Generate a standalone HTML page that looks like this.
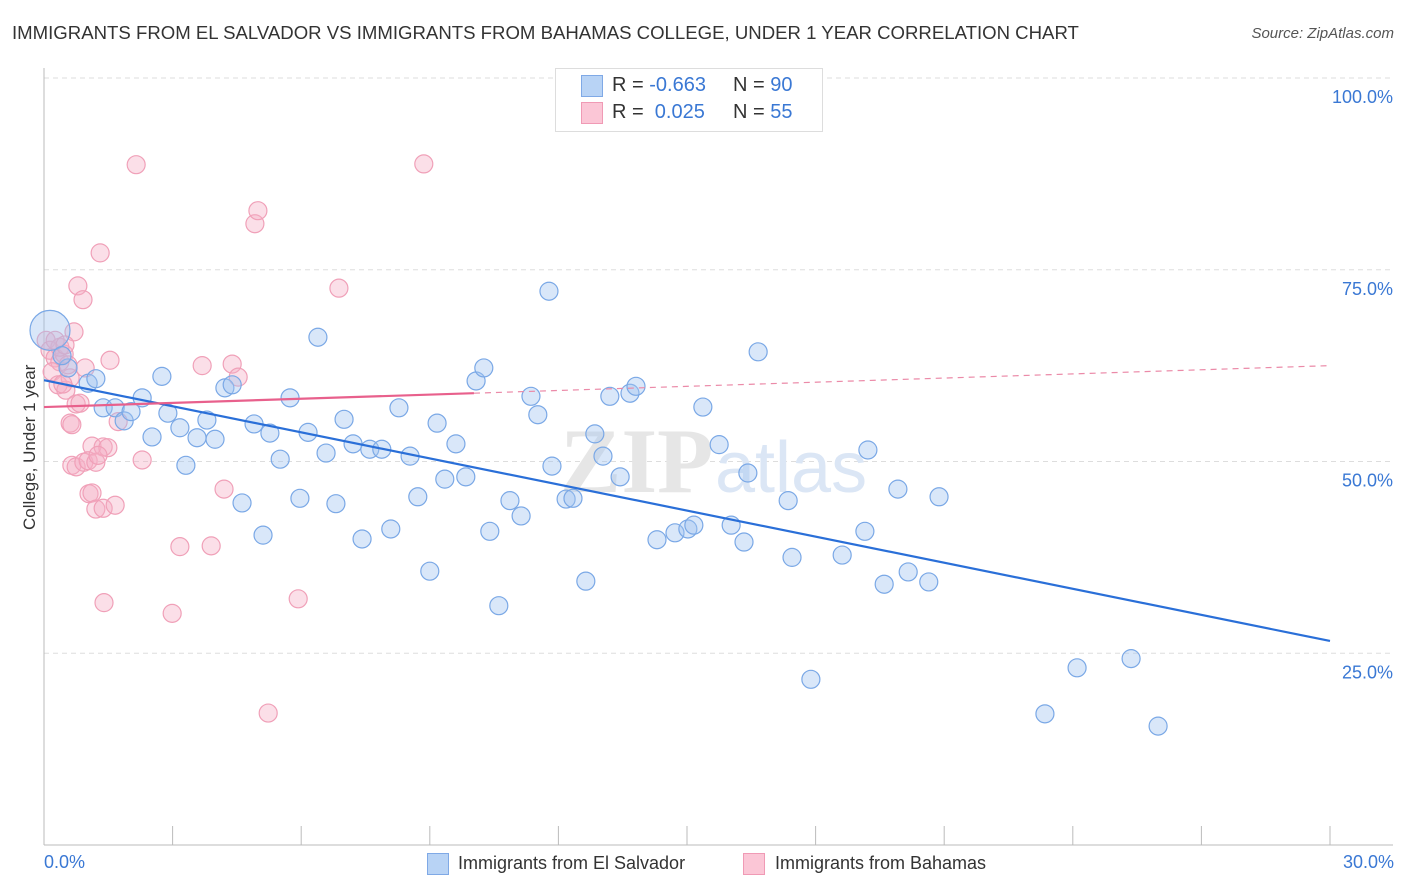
<!DOCTYPE html>
<html><head><meta charset="utf-8"><style>
body{margin:0;background:#fff;font-family:"Liberation Sans",sans-serif;}
#wrap{position:relative;width:1406px;height:892px;overflow:hidden;}
.t{position:absolute;white-space:nowrap;}
</style></head><body>
<div id="wrap">
<div class="t" style="left:12px;top:22px;font-size:18.6px;color:#333;">IMMIGRANTS FROM EL SALVADOR VS IMMIGRANTS FROM BAHAMAS COLLEGE, UNDER 1 YEAR CORRELATION CHART</div>
<div class="t" style="right:12px;top:25px;font-size:15px;color:#555;font-style:italic;">Source: ZipAtlas.com</div>
<div class="t" style="left:-45px;top:445px;font-size:17px;color:#333;transform:rotate(-90deg);transform-origin:center;width:150px;text-align:center;">College, Under 1 year</div>
<svg id="svg" width="1406" height="892" style="position:absolute;left:0;top:0"></svg>
<div class="t" style="left:555px;top:68px;width:266px;height:62px;border:1px solid #ddd;background:#fff;"></div>
<div class="t" style="left:581px;top:75px;width:20px;height:20px;background:#b8d3f5;border:1px solid #7fa9e6;"></div>
<div class="t" style="left:581px;top:102px;width:20px;height:20px;background:#fbc6d6;border:1px solid #f09ab5;"></div>
<div class="t" style="left:612px;top:74px;font-size:20px;color:#333;">R = <span style="color:#3a78d4">-0.663</span></div>
<div class="t" style="left:733px;top:74px;font-size:20px;color:#333;">N = <span style="color:#3a78d4">90</span></div>
<div class="t" style="left:612px;top:101px;font-size:20px;color:#333;">R = &nbsp;<span style="color:#3a78d4">0.025</span></div>
<div class="t" style="left:733px;top:101px;font-size:20px;color:#333;">N = <span style="color:#3a78d4">55</span></div>
<div class="t" style="left:44px;top:852px;font-size:18px;color:#3a78d4;">0.0%</div>
<div class="t" style="right:12px;top:852px;font-size:18px;color:#3a78d4;">30.0%</div>
<div class="t" style="left:427px;top:853px;width:20px;height:20px;background:#b8d3f5;border:1px solid #7fa9e6;"></div>
<div class="t" style="left:458px;top:853px;font-size:18px;color:#333;">Immigrants from El Salvador</div>
<div class="t" style="left:743px;top:853px;width:20px;height:20px;background:#fbc6d6;border:1px solid #f09ab5;"></div>
<div class="t" style="left:775px;top:853px;font-size:18px;color:#333;">Immigrants from Bahamas</div>
</div>
<script>
const yTicks=[100,75,50,25];
const yTickLabels=["100.0%","75.0%","50.0%","25.0%"];
const xTicks=[0,3,6,9,12,15,18,21,24,27,30];
const blueX=[0.14,0.56,1.03,1.21,0.42,1.38,1.66,1.87,2.03,2.29,2.52,2.75,2.89,3.17,3.31,3.57,3.80,3.99,4.22,4.39,4.62,4.90,5.11,5.27,5.51,5.74,5.97,6.16,6.39,6.58,6.81,7.00,7.21,7.42,7.60,7.88,8.09,8.28,8.54,8.72,9.00,9.17,9.35,9.61,9.84,10.08,10.26,10.40,10.61,10.87,11.13,11.36,11.52,11.78,11.85,12.18,12.34,12.64,12.85,13.04,13.20,13.44,13.67,13.81,14.30,14.72,15.02,15.16,15.37,15.75,16.03,16.33,16.42,16.66,17.36,17.45,17.89,18.62,19.15,19.22,19.60,19.92,20.16,20.64,20.88,23.35,24.10,25.36,25.99];
const blueY=[67.1,62.2,60.2,60.8,63.8,57.0,57.0,55.3,56.5,58.3,53.2,61.1,56.3,54.4,49.5,53.1,55.4,52.9,59.6,60.0,44.6,54.9,40.4,53.7,50.3,58.3,45.2,53.8,66.2,51.1,44.5,55.5,52.3,39.9,51.6,51.6,41.2,57.0,50.7,45.4,35.7,55.0,47.7,52.3,48.0,60.5,62.2,40.9,31.2,44.9,42.9,58.5,56.1,72.2,49.4,45.1,45.2,34.4,53.6,50.7,58.5,48.0,58.9,59.8,39.8,40.7,41.2,41.7,57.1,52.2,41.7,39.5,48.5,64.3,44.9,37.5,21.6,37.8,40.9,51.5,34.0,46.4,35.6,34.3,45.4,17.1,23.1,24.3,15.5];
const pinkX=[0.05,0.14,0.26,0.37,0.19,0.47,0.33,0.51,0.61,0.70,0.79,0.91,1.31,2.15,4.92,4.99,6.88,8.86,0.96,1.54,0.75,0.61,0.65,1.12,1.38,1.49,0.65,0.75,0.93,1.03,1.21,2.29,1.05,1.12,1.21,1.38,1.66,3.17,3.90,4.20,1.40,2.99,5.93,5.23,3.69,4.39,4.53,0.37,0.26,0.49,0.56,0.84,1.73,1.26,0.44];
const pinkY=[65.8,64.5,63.5,63.0,61.7,64.0,60.0,59.3,60.9,66.9,72.9,71.1,77.2,88.7,81.0,82.7,72.6,88.8,62.2,63.2,57.5,55.0,54.8,52.0,51.9,51.8,49.5,49.3,49.9,50.1,49.9,50.2,45.8,45.9,43.8,43.9,44.3,38.9,39.0,46.4,31.6,30.2,32.1,17.2,62.5,62.7,61.0,64.9,65.8,65.2,62.6,57.6,55.2,50.8,60.1];
const blueTrend=[60.6,26.6];
const pinkTrend=[57.1,62.5];
const pinkSolidEnd=10.03;

const X0=44,X1=1330,Y0=845,PX=767;
const sx=v=>X0+(v/30)*(X1-X0);
const sy=v=>Y0-v/100*PX;
const svg=document.getElementById('svg');
const NS='http://www.w3.org/2000/svg';
function mk(t,a){const e=document.createElementNS(NS,t);for(const k in a)e.setAttribute(k,a[k]);svg.appendChild(e);return e;}

yTicks.forEach((v,i)=>{
 const g=mk('line',{x1:X0,x2:1393,y1:sy(v),y2:sy(v),stroke:'#ddd','stroke-dasharray':'5,4'});
 
 
 const t=mk('text',{x:1393,y:sy(v)+25,'text-anchor':'end','font-size':18,fill:'#3a78d4','font-family':'Liberation Sans, sans-serif'});
 t.textContent=yTickLabels[i];
 
 
});
const ax=mk('line',{x1:X0,x2:X0,y1:68,y2:Y0,stroke:'#bbb'});


const bx=mk('line',{x1:X0,x2:1393,y1:Y0,y2:Y0,stroke:'#bbb'});


xTicks.forEach(v=>{
 const l=mk('line',{x1:sx(v),x2:sx(v),y1:826,y2:Y0,stroke:'#bbb'});
 
 
});
const wm=mk('text',{x:560,y:492,'font-size':92,fill:'#e6e6e6','font-family':'Liberation Serif, serif','font-weight':'bold'});
wm.textContent='ZIP';


const wm2=mk('text',{x:715,y:492,'font-size':72,fill:'#dbe6f5','font-family':'Liberation Sans, sans-serif'});
wm2.textContent='atlas';



pinkX.forEach((x,i)=>{
 const c=mk('circle',{cx:sx(x),cy:sy(pinkY[i]),r:9,fill:'rgba(246,176,198,0.4)',stroke:'#f0a0b8','stroke-width':1.2});
 
 
});
blueX.forEach((x,i)=>{
 const c=mk('circle',{cx:sx(x),cy:sy(blueY[i]),r:i===0?20:9,fill:'rgba(160,196,240,0.4)',stroke:'#7aa8e6','stroke-width':1.2});
 
 
});
const bl=mk('line',{x1:sx(0),y1:sy(blueTrend[0]),x2:sx(30),y2:sy(blueTrend[1]),stroke:'#2a6fd8','stroke-width':2.2});


const pAt=x=>pinkTrend[0]+(pinkTrend[1]-pinkTrend[0])*x/30;
const pl=mk('line',{x1:sx(0),y1:sy(pAt(0)),x2:sx(pinkSolidEnd),y2:sy(pAt(pinkSolidEnd)),stroke:'#e8608c','stroke-width':2.2});


const pd=mk('line',{x1:sx(pinkSolidEnd),y1:sy(pAt(pinkSolidEnd)),x2:sx(30),y2:sy(pAt(30)),stroke:'#eb8aa8','stroke-width':1.2,'stroke-dasharray':'6,5'});


</script>
</body></html>
